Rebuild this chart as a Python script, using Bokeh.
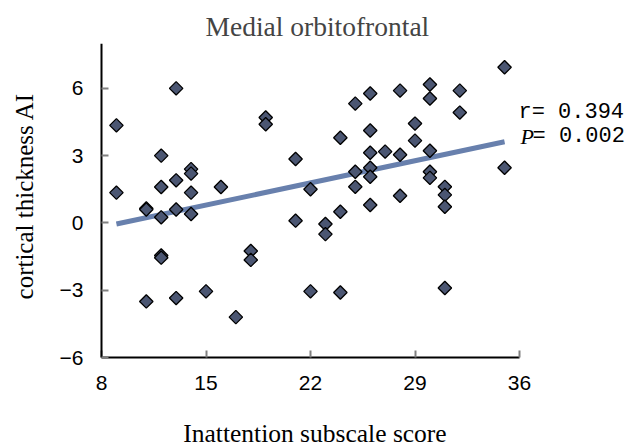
import numpy as np
from bokeh.plotting import figure
from bokeh.models import Range1d, FixedTicker, Title
from bokeh.core.properties import value
from bokeh.embed import file_html
from bokeh.resources import INLINE

# Data
score = [9, 9, 11, 11, 11, 12, 12, 12, 12, 12, 13, 13, 13, 13, 14, 14, 14, 14,
         15, 16, 17, 18, 18, 19, 19, 21, 21, 22, 22, 23, 23, 24, 24, 24,
         25, 25, 25, 26, 26, 26, 26, 26, 26, 27, 28, 28, 28, 29, 29,
         30, 30, 30, 30, 30, 31, 31, 31, 31, 32, 32, 35, 35]
thickness_ai = [4.35, 1.35, 0.65, 0.6, -3.5, 3.0, 1.6, 0.25, -1.45, -1.55,
                6.0, 1.9, 0.6, -3.35, 2.4, 2.2, 1.35, 0.4,
                -3.05, 1.6, -4.2, -1.25, -1.65, 4.7, 4.4, 2.85, 0.1, 1.5, -3.05,
                -0.05, -0.5, 3.8, 0.5, -3.1,
                5.32, 2.28, 1.61, 5.77, 4.12, 3.13, 2.46, 2.06, 0.8, 3.18,
                5.9, 3.04, 1.21, 4.43, 3.67,
                6.17, 5.55, 3.22, 2.28, 2.01, 1.61, 1.25, 0.72, -2.9, 5.9, 4.92,
                6.94, 2.46]
fit_x = [9, 35]
fit_y = [-0.05, 3.62]
x_ticks = [8, 15, 22, 29, 36]
y_ticks = [-6, -3, 0, 3, 6]
y_tick_labels = {-6: "\u22126", -3: "\u22123", 0: "0", 3: "3", 6: "6"}
x_title = "Inattention subscale score"
y_title = "cortical thickness AI"
r_text = "r= 0.394"
p_letter = "P"
p_text = "= 0.002"

serif = "Liberation Serif"
sans = "Liberation Sans"
mono = "Liberation Mono"

W, H = 632, 447
FT = 43
AX_L, AX_R, AX_T, AX_B = 101, 519, 43, 357   # pixel box of the axes
x_px = (AX_R - AX_L) / 28.0
y_px = (AX_B - AX_T) / 14.0
x_start = 8 - AX_L / x_px
x_end = 8 + (W - AX_L) / x_px
y_start = -6 - (H - AX_B) / y_px

p = figure(width=W, height=H, output_backend="svg", toolbar_location=None,
           x_range=Range1d(x_start, x_end), y_range=Range1d(y_start, 8),
           min_border_left=0, min_border_right=0, min_border_top=FT,
           min_border_bottom=0)
p.title = Title(text="Medial orbitofrontal", align="left", offset=205,
                text_font=serif, text_font_size="27.5px", text_font_style="normal",
                standoff=3)
p.outline_line_color = None
p.grid.visible = False
p.background_fill_color = "white"
p.border_fill_color = "white"

for ax in (p.xaxis, p.yaxis):
    ax.axis_line_color = "black"
    ax.axis_line_width = 2
    ax.major_tick_in = 7
    ax.major_tick_out = 0
    ax.major_tick_line_color = "#808080"
    ax.major_tick_line_width = 2
    ax.minor_tick_line_color = None
    ax.major_label_text_font = sans
    ax.major_label_text_font_size = "21px"
    ax.major_label_text_color = "black"

p.xaxis.bounds = (8, 36)
p.xaxis.fixed_location = -6
p.yaxis.bounds = (-6, 8)
p.yaxis.fixed_location = 8
p.xaxis.ticker = FixedTicker(ticks=x_ticks)
p.yaxis.ticker = FixedTicker(ticks=y_ticks)
p.yaxis.major_label_overrides = y_tick_labels
p.xaxis.major_label_standoff = 18
p.yaxis.major_label_standoff = 18

p.line(fit_x, fit_y, line_color="#6880ad", line_width=5)
p.scatter(score, thickness_ai, marker="square", angle=np.pi / 4, size=9.5,
          fill_color="#4b5672", line_color="black", line_width=1.3)

# axis titles
p.text(x=[22.30], y=[-9.41], text=[x_title], text_font=value(serif),
       text_font_size="25.5px", text_color="black", text_align="center",
       text_baseline="middle")
p.text(x=[2.82], y=[1.2], text=[y_title], text_font=value(serif),
       text_font_size="25px", text_color="black", text_align="center",
       text_baseline="middle", angle=np.pi / 2)

# statistics
p.text(x=[35.93], y=[4.94], text=[r_text], text_font=value(mono),
       text_font_size="22px", text_color="black", text_baseline="middle")
p.text(x=[36.06], y=[3.86], text=[p_letter], text_font=value(serif),
       text_font_style="italic", text_font_size="22px", text_color="black",
       text_baseline="middle")
p.text(x=[36.87], y=[3.86], text=[p_text], text_font=value(mono),
       text_font_size="22px", text_color="black", text_baseline="middle")

open("out.html", "w").write(file_html(p, INLINE))
